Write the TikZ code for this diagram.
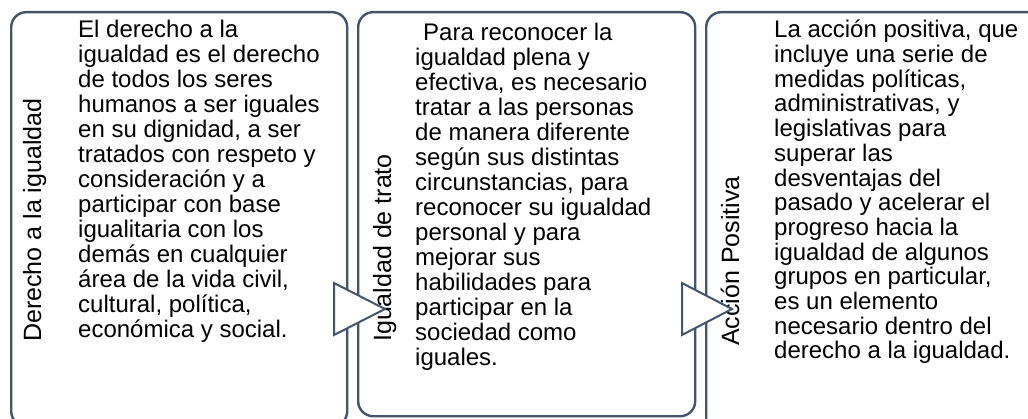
\documentclass[tikz,border=0pt]{standalone}
\usepackage{fontspec}
\setmainfont{Liberation Sans}
\definecolor{marco}{HTML}{44546A}
\begin{document}
\begin{tikzpicture}[
       x=1pt, y=-1pt,
       caja/.style={
         draw=marco,
         line width=2.4pt,
         rounded corners=15pt,
         fill=white,
         inner sep=0pt,
         anchor=north west
       },
       texto/.style={
         anchor=base west,
         inner sep=0pt,
         align=left,
         font={\fontsize{24}{#1}\selectfont\lineskiplimit-20pt\relax}
       },
       texto/.default=25,
       titulo/.style={
         anchor=base west,
         rotate=90,
         inner sep=0pt,
         font=\fontsize{25}{25}\selectfont
       },
       flecha/.style={
         draw=marco,
         line width=2pt,
         fill=white,
         line join=miter
       }
     ]
       \useasboundingbox (0,0) rectangle (1028,419);
       \clip (0,0) rectangle (1028,419);

       \node (c1) at (10,11) [caja,minimum width=336pt,minimum height=414pt]{};
       \node (c2) at (357,11) [caja,minimum width=337pt,minimum height=404pt]{};
       \node (c3) at (705,11) [caja,minimum width=340pt,minimum height=430pt]{};

       \node (l1) at (41,342) [titulo]{Derecho a la igualdad};
       \node (l2) at (391,342) [titulo]{Igualdad de trato};
       \node (l3) at (739,346) [titulo]{Acción Positiva};

       % el ancla base es la ultima linea
       \node (t1) at (78,337.7) [texto]{El derecho a la\\ igualdad es el derecho\\ de todos los seres\\
         humanos a ser iguales\\ en su dignidad, a ser\\ tratados con respeto y\\
         consideración y a\\ participar con base\\ igualitaria con los\\
         demás en cualquier\\ área de la vida civil,\\ cultural, política,\\
         económica y social.};
       \node (t2) at (415,366) [texto]{\hspace{8pt}Para reconocer la\\ igualdad plena y\\
         efectiva, es necesario\\ tratar a las personas\\ de manera diferente\\
         según sus distintas\\ circunstancias, para\\ reconocer su igualdad\\
         personal y para\\ mejorar sus\\ habilidades para\\ participar en la\\
         sociedad como\\ iguales.};
       \node (t3) at (774,359) [texto=24.7]{La acción positiva, que\\ incluye una serie de\\
         medidas políticas,\\ administrativas, y\\ legislativas para\\ superar las\\
         desventajas del\\ pasado y acelerar el\\ progreso hacia la\\
         igualdad de algunos\\ grupos en particular,\\ es un elemento\\
         necesario dentro del\\ derecho a la igualdad.};

       % triangulos entre cajas
       \draw[flecha] (334,283) -- (385,309) -- (334,335) -- cycle;
       \draw[flecha] (682,283) -- (732,309) -- (682,335) -- cycle;

\end{tikzpicture}
\end{document}
